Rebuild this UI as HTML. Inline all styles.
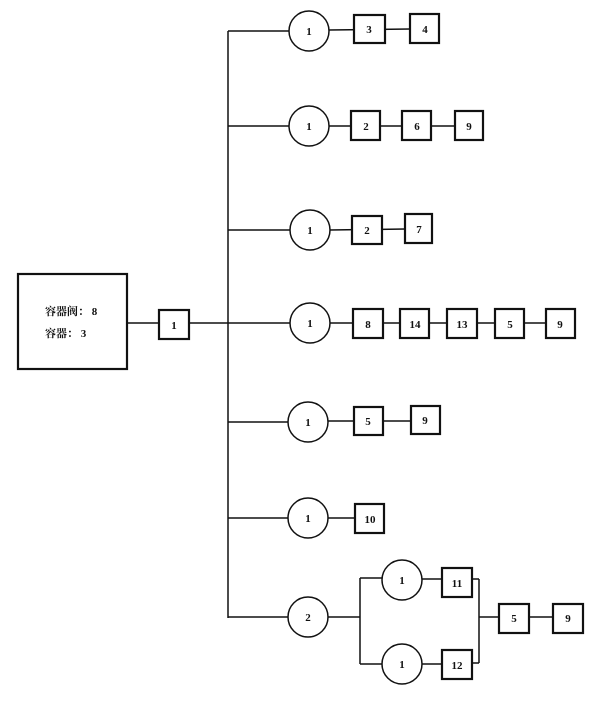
<!DOCTYPE html>
<html><head><meta charset="utf-8"><style>
html,body{margin:0;padding:0;background:#fff;width:600px;height:701px;overflow:hidden}
text{font-family:"Liberation Serif","Noto Serif CJK SC",serif;font-weight:bold;font-size:11px;fill:#111}
</style></head><body>
<svg width="600" height="701" viewBox="0 0 600 701" xmlns="http://www.w3.org/2000/svg">
<g stroke="#111" fill="none" stroke-width="1.5">
<!-- trunk -->
<line x1="228" y1="31" x2="228" y2="618"/>
<line x1="228" y1="31" x2="289" y2="31"/>
<line x1="228" y1="126" x2="289" y2="126"/>
<line x1="228" y1="230" x2="290" y2="230"/>
<line x1="189" y1="323" x2="290" y2="323"/>
<line x1="127" y1="323" x2="159" y2="323"/>
<line x1="228" y1="422" x2="288" y2="422"/>
<line x1="228" y1="518" x2="288" y2="518"/>
<line x1="228" y1="617" x2="288" y2="617"/>
<!-- row connectors -->
<line x1="329" y1="30" x2="410" y2="29"/>
<line x1="329" y1="126" x2="483" y2="126"/>
<line x1="330" y1="230" x2="405" y2="229"/>
<line x1="330" y1="323" x2="546" y2="323"/>
<line x1="328" y1="421" x2="411" y2="421"/>
<line x1="328" y1="518" x2="355" y2="518"/>
<!-- row7 branch -->
<line x1="328" y1="617" x2="360" y2="617"/>
<line x1="360" y1="578" x2="360" y2="664"/>
<line x1="360" y1="578" x2="382" y2="578"/>
<line x1="360" y1="664" x2="382" y2="664"/>
<line x1="422" y1="579" x2="442" y2="579"/>
<line x1="422" y1="664" x2="442" y2="664"/>
<line x1="472" y1="579" x2="479" y2="579"/>
<line x1="472" y1="663" x2="479" y2="663"/>
<line x1="479" y1="579" x2="479" y2="663"/>
<line x1="479" y1="617" x2="553" y2="617"/>
<!-- circles -->
<circle cx="309" cy="31" r="20" fill="#fff"/>
<circle cx="309" cy="126" r="20" fill="#fff"/>
<circle cx="310" cy="230" r="20" fill="#fff"/>
<circle cx="310" cy="323" r="20" fill="#fff"/>
<circle cx="308" cy="422" r="20" fill="#fff"/>
<circle cx="308" cy="518" r="20" fill="#fff"/>
<circle cx="308" cy="617" r="20" fill="#fff"/>
<circle cx="402" cy="580" r="20" fill="#fff"/>
<circle cx="402" cy="664" r="20" fill="#fff"/>
</g>
<g stroke="#111" fill="#fff" stroke-width="2.2">
<rect x="18" y="274" width="109" height="95"/>
<rect x="159" y="310" width="30" height="29"/>
<rect x="354" y="15" width="31" height="28"/>
<rect x="410" y="14" width="29" height="29"/>
<rect x="351" y="111" width="29" height="29"/>
<rect x="402" y="111" width="29" height="29"/>
<rect x="455" y="111" width="28" height="29"/>
<rect x="352" y="216" width="30" height="28"/>
<rect x="405" y="214" width="27" height="29"/>
<rect x="353" y="309" width="30" height="29"/>
<rect x="400" y="309" width="29" height="29"/>
<rect x="447" y="309" width="30" height="29"/>
<rect x="495" y="309" width="29" height="29"/>
<rect x="546" y="309" width="29" height="29"/>
<rect x="354" y="407" width="29" height="28"/>
<rect x="411" y="406" width="29" height="28"/>
<rect x="355" y="504" width="29" height="29"/>
<rect x="442" y="568" width="30" height="29"/>
<rect x="442" y="650" width="30" height="29"/>
<rect x="499" y="604" width="30" height="29"/>
<rect x="553" y="604" width="30" height="29"/>
</g>
<g text-anchor="middle">
<text x="309" y="35">1</text>
<text x="369" y="33">3</text>
<text x="425" y="33">4</text>
<text x="309" y="130">1</text>
<text x="366" y="130">2</text>
<text x="417" y="130">6</text>
<text x="469" y="130">9</text>
<text x="310" y="234">1</text>
<text x="367" y="234">2</text>
<text x="419" y="233">7</text>
<text x="310" y="327">1</text>
<text x="368" y="328">8</text>
<text x="415" y="328">14</text>
<text x="462" y="328">13</text>
<text x="510" y="328">5</text>
<text x="560" y="328">9</text>
<text x="174" y="329">1</text>
<text x="308" y="426">1</text>
<text x="368" y="425">5</text>
<text x="425" y="424">9</text>
<text x="308" y="522">1</text>
<text x="370" y="523">10</text>
<text x="308" y="621">2</text>
<text x="402" y="584">1</text>
<text x="402" y="668">1</text>
<text x="457" y="587">11</text>
<text x="457" y="669">12</text>
<text x="514" y="622">5</text>
<text x="568" y="622">9</text>
</g>
<text x="45" y="315" font-size="10">容器阀： 8</text>
<text x="45" y="337" font-size="10">容器： 3</text>
</svg>
</body></html>
